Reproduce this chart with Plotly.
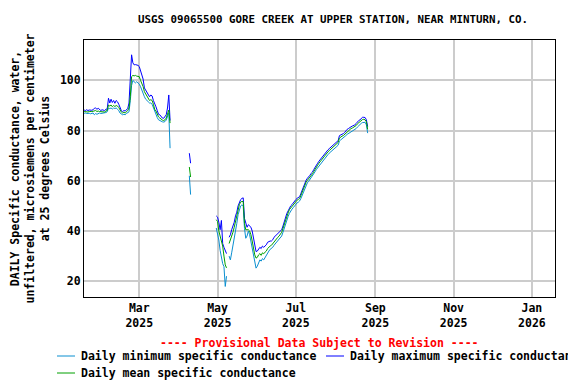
import pandas as pd
import plotly.graph_objects as go

# ---------------- data ----------------
seg1_start = "2025-01-17"
seg1_max = [88.2, 88, 88.3, 88, 88.2, 88, 88.1, 88.3, 88.9, 89,
            88.5, 88.9, 88.2, 88, 88.3, 88.2, 88, 88.5, 88.6, 92.9,
            91, 92.5, 91.2, 92, 90.9, 92, 91.5, 90.5, 88.9, 88,
            87.6, 88, 87.8, 88.2, 88.8, 91, 98.9, 110.2, 107, 106.2,
            106.3, 106.2, 106, 105.5, 103.5, 101.5, 100.5, 97, 96, 95,
            94.2, 93.5, 94.2, 93.8, 92, 90.2, 89.5, 88, 86.5, 86.3,
            85.6, 85, 84.9, 85.5, 86.3, 89, 94.2, 84]
seg1_mean = [87.6, 87.5, 87.7, 87.4, 87.6, 87.5, 87.6, 87.7, 87.9, 88,
             87.6, 87.8, 87.6, 87.5, 87.6, 87.5, 87.4, 87.8, 88, 90.2,
             89.8, 90.2, 89.5, 90, 89.6, 90, 89.8, 89.2, 88, 87.4,
             87, 87.3, 87, 87.5, 88, 89, 93.5, 101.5, 102, 101.8,
             102, 101.7, 101.5, 101.5, 100, 99, 97.5, 95.5, 94.5, 93.5,
             92.5, 92, 92.3, 92, 90.5, 88.5, 87.8, 86.5, 85.5, 85,
             84.5, 84.2, 84, 84.3, 85, 86.5, 88.2, 83]
seg1_min = [86.9, 87, 86.8, 87, 86.9, 86.7, 86.9, 87, 86.3, 86.8,
            86.5, 86.7, 87, 86.8, 86.9, 87, 86.8, 87.2, 87.5, 89,
            88.8, 89, 88.6, 89, 88.8, 89, 88.5, 88, 87, 86.5,
            86.3, 86.5, 86.3, 86.8, 87.2, 87.5, 92, 98, 100, 99.5,
            99, 99.5, 99, 98.5, 97.5, 96, 94.5, 93.5, 92.5, 91.8,
            91.5, 91, 91, 90.5, 89, 87.6, 86.5, 85.2, 84.3, 84,
            83.6, 83.5, 83.4, 83.6, 84.2, 85.5, 87, 73]

seg2_start = "2025-04-09"
seg2_max = [71, 67]
seg2_mean = [65.5, 61.5]
seg2_min = [62, 54.5]

seg3_start = "2025-04-30"
seg3_max = [46, 45.5, 43.5, 40.5, 44.2, 35, 33.5, 32.5, 31, None,
            37.5, 38.5, 40.5, 41.8, 43.5, 46, 47.5, 50, 51.5, 52.5,
            53, 53.2, 45, 43, 41.5, 42.5, 42, 41.5, 40, 37,
            33.5, 31.8, 32, 33, 33.5, 33, 34, 33.5, 34, 34.5,
            35.5, 35.8, 36, 36, 36.5, 37.5, 38, 38.5, 39, 39.5,
            40, 40.5, 42, 44, 45.5, 47, 48, 49.3, 50, 50.5,
            51.3, 52, 52.5, 53, 53.3, 53.7, 55, 56.5, 58, 59.2,
            60.2, 61, 61.5, 62.2, 63, 63.5, 64.5, 65.5, 66.3, 67,
            67.8, 68.5, 69, 69.8, 70.5, 71, 71.6, 72.3, 72.8, 73.3,
            73.6, 74.2, 74.8, 75.2, 75.5, 76, 78, 78.2, 78.5, 78.8,
            79.2, 80, 80.5, 80.8, 81, 81.5, 81.8, 82, 82.3, 82.8,
            83.5, 84, 84.3, 84.8, 85.3, 85.3, 85.2, 84.3, 81.6]
seg3_mean = [44.5, 43.8, 40, 37.8, 36, 34, 30, 26.5, 25.3, None,
             35, 36.4, 38, 39.5, 41.5, 44, 46, 48.5, 50.5, 51.5,
             51.8, 51.7, 43, 40.5, 40.4, 40.5, 40, 38.5, 36, 33,
             30.5, 29.2, 29.5, 30.5, 31, 30.3, 31.3, 31, 31.5, 32,
             33, 33.7, 34, 34.3, 35, 35.8, 36.5, 37, 37.5, 38,
             38.8, 39.5, 41, 42.8, 44.5, 46, 47.2, 48.5, 49.2, 49.8,
             50.5, 51.2, 51.8, 52.3, 52.6, 53, 54.2, 55.6, 57.2, 58.4,
             59.4, 60.2, 60.8, 61.5, 62.2, 62.8, 63.7, 64.7, 65.5, 66.2,
             67, 67.7, 68.3, 69, 69.7, 70.3, 70.9, 71.5, 72, 72.5,
             72.9, 73.4, 74, 74.5, 74.8, 75.3, 77, 77.5, 77.8, 78,
             78.5, 79.2, 79.7, 80, 80.3, 80.8, 81, 81.3, 81.6, 82,
             82.7, 83.2, 83.6, 84, 84.4, 84.5, 84.3, 83.5, 80.5]
seg3_min = [41.2, 39, 36.4, 32.3, 29.5, 27, 25.8, 17.9, 22, None,
            30, 28.5, 31.3, 34, 37, 40, 43, 46.5, 48.5, 50,
            50.4, 50, 41, 37.1, 38, 40, 38.5, 35.5, 33.8, 30,
            27, 25.2, 26, 27.5, 28.5, 28, 29, 28.5, 29.5, 30,
            31, 32, 32.7, 33, 33.5, 34.3, 35, 35.5, 36, 36.6,
            37.3, 38, 39.5, 41.3, 43, 44.5, 45.8, 47, 48, 48.7,
            49.3, 50, 50.7, 51.2, 51.5, 52, 53, 54.3, 56, 57.3,
            58.3, 59.2, 59.8, 60.5, 61.2, 61.8, 62.6, 63.6, 64.5, 65.2,
            66, 66.6, 67.3, 68, 68.6, 69.2, 69.8, 70.4, 71, 71.4,
            71.8, 72.3, 72.8, 73.3, 73.7, 74.2, 75.8, 76.3, 76.7, 77,
            77.3, 78, 78.5, 78.8, 79.1, 79.5, 79.8, 80, 80.4, 80.8,
            81.4, 82, 82.5, 82.9, 83.2, 83.4, 83.3, 82.3, 79]

tick_dates = ["2025-03-01", "2025-05-01", "2025-07-01", "2025-09-01", "2025-11-01", "2026-01-01"]
tick_labels = ["Mar<br>2025", "May<br>2025", "Jul<br>2025", "Sep<br>2025", "Nov<br>2025", "Jan<br>2026"]
y_ticks = [20, 40, 60, 80, 100]

series_names = ["Daily minimum specific conductance",
                "Daily maximum specific conductance",
                "Daily mean specific conductance"]
series_colors = ["#0a8fd0", "#0000ff", "#00a000"]


def build(segments):
    xs, ys = [], []
    for start, vals in segments:
        d = pd.date_range(start, periods=len(vals), freq="D")
        xs.extend(list(d))
        ys.extend(vals)
        xs.append(d[-1] + pd.Timedelta(hours=12))
        ys.append(None)
    return xs, ys


series = [
    build([(seg1_start, seg1_min), (seg2_start, seg2_min), (seg3_start, seg3_min)]),
    build([(seg1_start, seg1_max), (seg2_start, seg2_max), (seg3_start, seg3_max)]),
    build([(seg1_start, seg1_mean), (seg2_start, seg2_mean), (seg3_start, seg3_mean)]),
]

FONT = "DejaVu Sans Mono"
W, H = 576, 384
OFF = 8  # the page body margin shifts the figure by 8px
# plot area in screen pixels (as in the reference)
SL, SR, ST, SB = 84, 555, 40, 297
L, T = SL - OFF, ST - OFF
R = W - (SR - OFF)
B = H - (SB - OFF)
PW, PH = SR - SL, SB - ST


def px(xs_):
    return (xs_ - SL) / PW


def py(ys_):
    return (SB - ys_) / PH


fig = go.Figure()
for (xs, ys), name, color in zip(series, series_names, series_colors):
    fig.add_trace(go.Scatter(x=xs, y=ys, mode="lines", name=name,
                             line=dict(color=color, width=1),
                             connectgaps=False, showlegend=False))

# legend drawn as line samples + text (two columns, right one running off the edge as in the original)
legend_pos = [(57, 356), (326, 356), (57, 373)]
shapes, annos = [], []
for (lx, ly), name, color in zip(legend_pos, series_names, series_colors):
    shapes.append(dict(type="line", xref="paper", yref="paper",
                       x0=px(lx), x1=px(lx + 18), y0=py(ly), y1=py(ly),
                       line=dict(color=color, width=1)))
    annos.append(dict(text=name, x=px(lx + 22), y=py(ly), xref="paper", yref="paper",
                      xanchor="left", yanchor="middle", showarrow=False,
                      font=dict(family=FONT, size=11.5, color="black", weight="bold")))
annos.append(dict(text="---- Provisional Data Subject to Revision ----",
                  x=0.5, xref="paper", y=py(343), yref="paper",
                  xanchor="center", yanchor="middle", showarrow=False,
                  font=dict(family=FONT, size=11.5, color="red", weight="bold")))

fig.update_layout(
    width=W, height=H,
    margin=dict(l=L, r=R, t=T, b=B, autoexpand=False),
    paper_bgcolor="white", plot_bgcolor="white",
    font=dict(family=FONT, size=11.5, color="black", weight="bold"),
    title=dict(text="USGS 09065500 GORE CREEK AT UPPER STATION, NEAR MINTURN, CO.",
               x=px(333), xref="paper", xanchor="center", y=1 - (19 - OFF) / H,
               yref="container", yanchor="middle",
               font=dict(family=FONT, size=10.8, color="black", weight="bold")),
    showlegend=False,
    shapes=shapes,
    annotations=annos,
)
fig.update_xaxes(range=["2025-01-16 22:00", "2026-01-19"], tickvals=tick_dates,
                 ticktext=tick_labels, showgrid=True, gridcolor="#cccccc", gridwidth=1.5,
                 showline=True, linecolor="black", linewidth=1, mirror=True,
                 ticks="", zeroline=False)
fig.update_yaxes(range=[13.7, 116.1], tickvals=y_ticks, showgrid=True,
                 gridcolor="#cccccc", gridwidth=1.5,
                 showline=True, linecolor="black", linewidth=1, mirror=True,
                 ticks="", zeroline=False,
                 title=dict(text="DAILY Specific conductance, water,<br>unfiltered, microsiemens per centimeter<br>at 25 degrees Celsius",
                            standoff=9,
                            font=dict(family=FONT, size=11.5, color="black", weight="bold")))

fig.write_html("out.html")
